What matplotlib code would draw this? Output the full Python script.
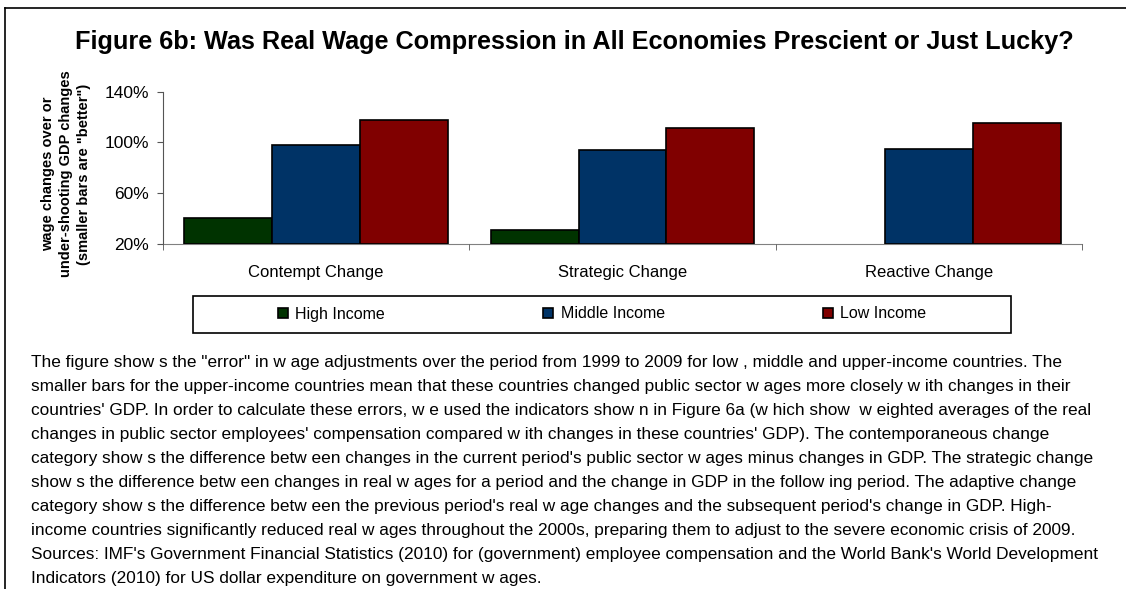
import matplotlib
matplotlib.use("Agg")
import matplotlib.pyplot as plt
import numpy as np
from matplotlib.lines import Line2D
from matplotlib.patches import Rectangle

plt.rcParams['font.family'] = ['Liberation Sans', 'DejaVu Sans']

# values in percent
categories = ['Contempt Change', 'Strategic Change', 'Reactive Change']
high_income = [40.2, 31.0, np.nan]
middle_income = [97.7, 94.0, 95.0]
low_income = [117.6, 111.6, 115.3]
series_names = ['High Income', 'Middle Income', 'Low Income']
colors = ['#003300', '#003366', '#800000']
yticks = [20, 60, 100, 140]

notes = [
    'The figure show s the "error" in w age adjustments over the period from 1999 to 2009 for low , middle and upper-income countries. The',
    'smaller bars for the upper-income countries mean that these countries changed public sector w ages more closely w ith changes in their',
    "countries' GDP. In order to calculate these errors, w e used the indicators show n in Figure 6a (w hich show  w eighted averages of the real",
    "changes in public sector employees' compensation compared w ith changes in these countries' GDP). The contemporaneous change",
    "category show s the difference betw een changes in the current period's public sector w ages minus changes in GDP. The strategic change",
    'show s the difference betw een changes in real w ages for a period and the change in GDP in the follow ing period. The adaptive change',
    "category show s the difference betw een the previous period's real w age changes and the subsequent period's change in GDP. High-",
    'income countries significantly reduced real w ages throughout the 2000s, preparing them to adjust to the severe economic crisis of 2009.',
    "Sources: IMF's Government Financial Statistics (2010) for (government) employee compensation and the World Bank's World Development",
    'Indicators (2010) for US dollar expenditure on government w ages.',
]

W, H = 1126, 589
fig = plt.figure(figsize=(W / 100, H / 100), dpi=100)

# frame lines (top and left)
fig.add_artist(Line2D([5 / W, 1], [1 - 8 / H, 1 - 8 / H], color='black', lw=1.2))
fig.add_artist(Line2D([5 / W, 5 / W], [0, 1 - 8 / H], color='black', lw=1.2))

ax = fig.add_axes([163 / W, 1 - 244 / H, 919 / W, (244 - 91.7) / H])
base = yticks[0]
x = np.arange(len(categories))
bw = 0.287
bars = []
for i, (vals, c, name) in enumerate(zip([high_income, middle_income, low_income], colors, series_names)):
    v = np.array(vals, dtype=float)
    b = ax.bar(x + (i - 1) * bw, v - base, bottom=base, width=bw, color=c,
               edgecolor='black', linewidth=1.2, label=name, zorder=3)
    bars.append(b)

ax.set_xlim(-0.5, len(categories) - 0.5)
ax.set_ylim(20, 140)
ax.set_yticks(yticks)
ax.set_yticklabels([f'{t}%' for t in yticks], fontsize=12.5)
ax.set_xticks(x)
ax.set_xticklabels(categories, fontsize=12)
ax.set_xticks(np.arange(len(categories) + 1) - 0.5, minor=True)
ax.tick_params(axis='x', which='major', length=0, pad=15)
ax.tick_params(axis='x', which='minor', length=4, direction='out', color='#555555')
ax.tick_params(axis='y', length=4, direction='out', color='#555555', pad=6)
for s in ['top', 'right']:
    ax.spines[s].set_visible(False)
ax.spines['left'].set_color('#555555')
ax.spines['bottom'].set_color('#808080')
ax.spines['bottom'].set_zorder(1)

fig.text(574 / W, 1 - 42 / H,
         'Figure 6b: Was Real Wage Compression in All Economies Prescient or Just Lucky?',
         ha='center', va='center', fontsize=18.2, fontweight='bold')

fig.text(66 / W, 1 - 174 / H,
         'wage changes over or\nunder-shooting GDP changes\n(smaller bars are "better")',
         ha='center', va='center', rotation=90, fontsize=10.5, fontweight='bold',
         multialignment='center', linespacing=1.4)

# legend box
fig.add_artist(Rectangle((193 / W, 1 - 333 / H), (1011 - 193) / W, 37 / H,
                         transform=fig.transFigure, fill=False, edgecolor='black', lw=1.2))
fig.legend(handles=bars, labels=series_names, loc='center', ncol=3,
           bbox_to_anchor=(602 / W, 1 - 314 / H), frameon=False, fontsize=11.5,
           handlelength=0.65, handleheight=0.65, handletextpad=0.45, columnspacing=9.9)

for k, line in enumerate(notes):
    fig.text(31 / W, 1 - (362 + 24 * k) / H, line, ha='left', va='center', fontsize=12.4)

fig.savefig('out.png', dpi=100)
